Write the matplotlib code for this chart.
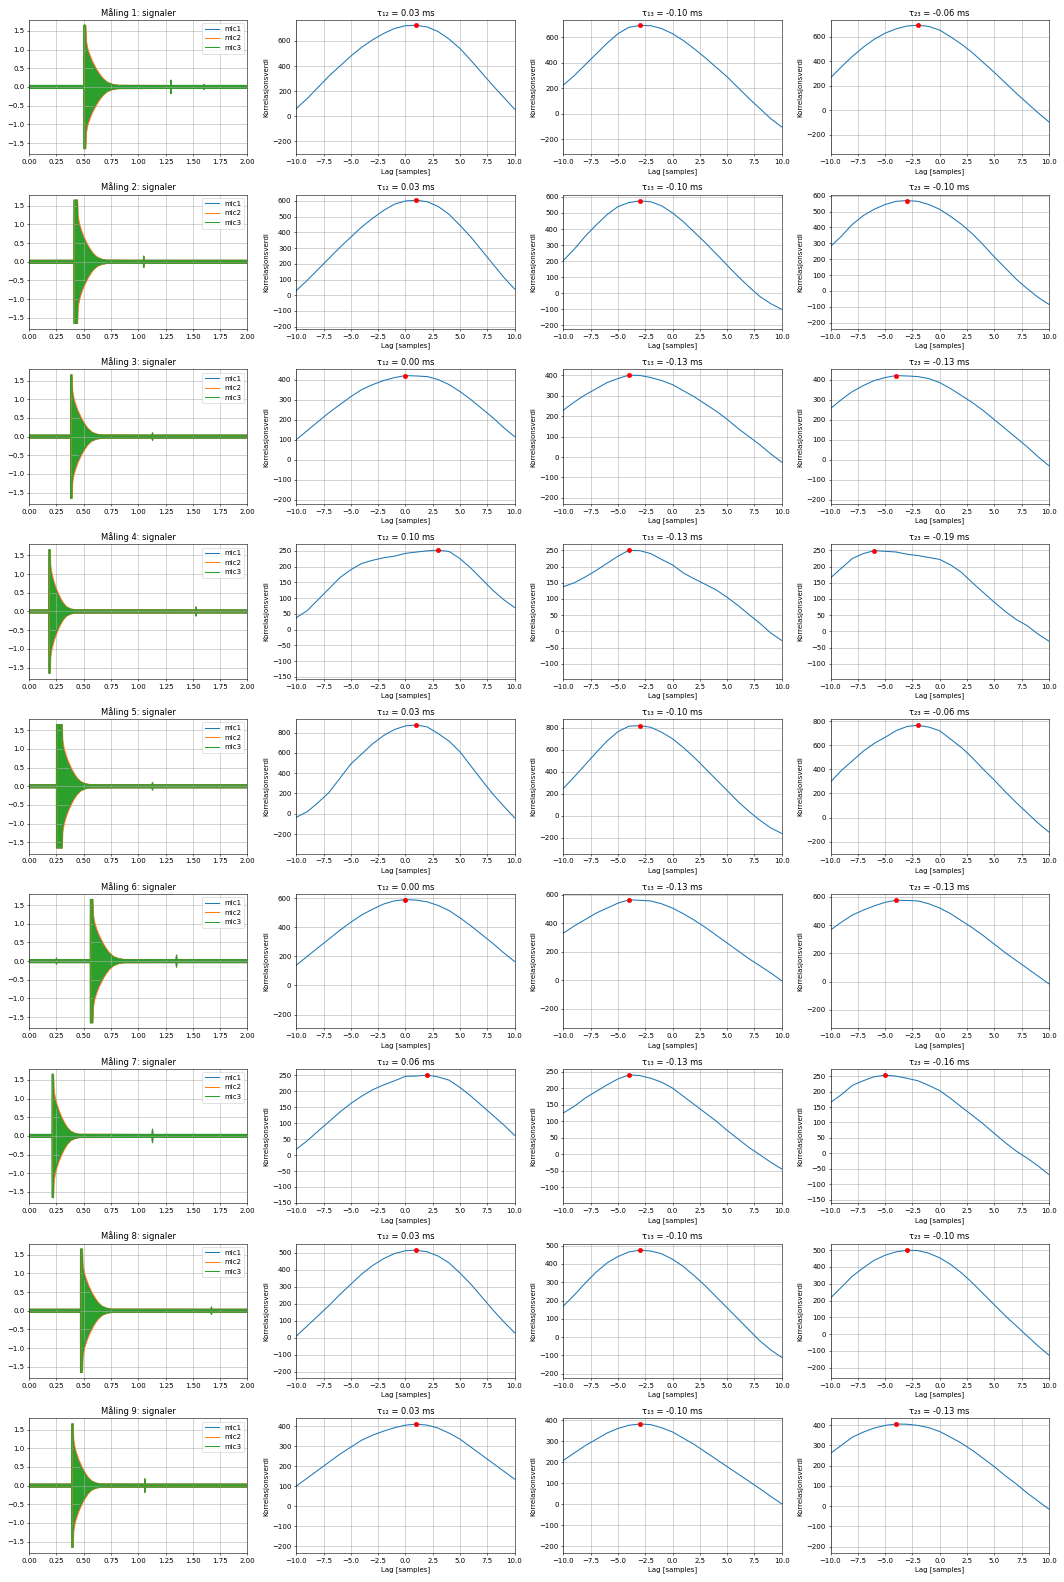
import numpy as np
import matplotlib
matplotlib.use("Agg")
import matplotlib.pyplot as plt

fs = 31250  # samples per second
lags = list(range(-10, 11))

# ---------------- signal panels (envelope) ----------------
onsets = [0.50, 0.41, 0.38, 0.18, 0.25, 0.56, 0.21, 0.47, 0.39]
clip_len = [0.015, 0.030, 0.010, 0.010, 0.050, 0.020, 0.010, 0.015, 0.010]
stretch = [1.00, 0.90, 0.90, 0.75, 0.85, 0.95, 0.80, 0.90, 0.85]
bumps = [
    [(1.30, 0.18), (1.60, 0.07)],
    [(1.05, 0.15)],
    [(1.13, 0.10)],
    [(1.53, 0.12)],
    [(1.13, 0.10)],
    [(0.25, 0.08), (1.35, 0.16)],
    [(1.13, 0.18)],
    [(1.67, 0.10)],
    [(1.06, 0.18)],
]
decay_off = [0.005, 0.020, 0.040, 0.060, 0.080, 0.100, 0.130, 0.160, 0.200, 0.250, 0.300]
decay_amp = [1.10, 0.90, 0.75, 0.62, 0.52, 0.42, 0.30, 0.20, 0.11, 0.06, 0.04]
noise_floor = 0.04
clip_level = 1.65

mics = ["mic1", "mic2", "mic3"]
mic_colors = ["tab:blue", "tab:orange", "tab:green"]
mic_shift = [0.002, 0.004, 0.0]
mic_scale = [1.05, 1.12, 1.0]

# ---------------- cross-correlation values at lags -10..10 ----------------
corr12 = [
    [60, 140, 230, 320, 400, 480, 550, 610, 660, 700, 722, 725, 712, 675, 615, 540, 445, 345, 245, 150, 55],
    [30, 95, 165, 235, 305, 370, 435, 490, 540, 580, 600, 605, 595, 565, 515, 445, 370, 285, 200, 115, 40],
    [100, 145, 190, 235, 275, 315, 350, 375, 395, 410, 420, 418, 415, 400, 375, 340, 300, 255, 210, 160, 115],
    [38, 60, 95, 130, 165, 190, 210, 220, 228, 233, 242, 246, 250, 252, 248, 225, 195, 160, 125, 95, 70],
    [-35, 20, 110, 210, 350, 490, 590, 690, 770, 830, 865, 875, 855, 790, 715, 610, 470, 330, 195, 75, -40],
    [140, 200, 260, 320, 380, 435, 485, 525, 560, 582, 590, 587, 575, 550, 515, 465, 410, 350, 290, 225, 165],
    [18, 45, 75, 105, 135, 162, 185, 205, 220, 233, 247, 248, 251, 245, 235, 212, 185, 155, 125, 95, 62],
    [10, 70, 130, 190, 255, 315, 375, 425, 465, 495, 512, 515, 505, 480, 440, 380, 315, 240, 165, 95, 30],
    [100, 140, 180, 220, 260, 295, 330, 355, 375, 392, 405, 410, 405, 390, 365, 335, 295, 255, 215, 175, 135],
]
corr13 = [
    [225, 300, 385, 470, 555, 630, 680, 695, 693, 670, 630, 575, 510, 440, 365, 290, 205, 120, 40, -40, -105],
    [205, 275, 355, 425, 490, 540, 565, 575, 570, 545, 500, 445, 380, 315, 245, 175, 105, 40, -20, -65, -100],
    [230, 270, 305, 335, 365, 385, 402, 400, 390, 375, 355, 325, 295, 260, 225, 185, 140, 100, 60, 15, -25],
    [138, 150, 168, 188, 210, 232, 250, 249, 240, 222, 205, 180, 162, 145, 128, 105, 80, 52, 25, -5, -28],
    [250, 355, 465, 575, 680, 765, 815, 820, 805, 760, 700, 620, 530, 430, 330, 230, 130, 40, -40, -110, -160],
    [330, 380, 425, 470, 505, 540, 563, 560, 555, 535, 505, 465, 420, 370, 315, 260, 205, 150, 100, 50, -5],
    [125, 145, 170, 190, 210, 228, 240, 238, 230, 218, 200, 175, 150, 125, 100, 72, 46, 20, -2, -25, -45],
    [170, 230, 295, 355, 405, 440, 465, 475, 470, 455, 425, 385, 335, 280, 220, 160, 100, 40, -20, -70, -110],
    [210, 245, 280, 310, 340, 362, 377, 383, 380, 365, 345, 315, 285, 250, 215, 180, 145, 110, 75, 38, 3],
]
corr23 = [
    [265, 355, 440, 515, 580, 630, 665, 688, 695, 685, 655, 600, 540, 470, 390, 310, 225, 140, 60, -20, -95],
    [280, 345, 420, 475, 515, 545, 565, 570, 565, 545, 515, 470, 420, 360, 290, 215, 145, 75, 15, -40, -85],
    [255, 300, 340, 370, 395, 410, 420, 418, 415, 405, 385, 355, 320, 285, 245, 200, 155, 110, 65, 15, -30],
    [165, 195, 225, 240, 249, 247, 245, 238, 234, 228, 222, 205, 182, 150, 120, 90, 62, 37, 18, -8, -30],
    [295, 390, 470, 550, 615, 665, 720, 755, 765, 750, 720, 650, 580, 495, 400, 310, 215, 125, 40, -45, -120],
    [365, 420, 470, 505, 535, 560, 575, 573, 570, 550, 520, 480, 430, 380, 325, 265, 205, 150, 95, 40, -15],
    [165, 190, 220, 235, 248, 253, 250, 243, 235, 220, 203, 178, 150, 123, 95, 65, 35, 8, -15, -40, -68],
    [215, 280, 345, 395, 440, 470, 490, 500, 498, 482, 455, 415, 365, 305, 240, 175, 110, 50, -10, -70, -125],
    [260, 300, 340, 365, 385, 398, 405, 404, 398, 387, 368, 340, 310, 275, 235, 195, 150, 110, 65, 25, -15],
]
ylim12 = [(-305, 770), (-215, 641), (-221, 451), (-156, 271), (-392, 933),
          (-295, 630), (-151, 271), (-236, 554), (-234, 439)]
ylim13 = [(-320, 740), (-223, 615), (-230, 430), (-146, 269), (-343, 880),
          (-339, 605), (-149, 259), (-223, 511), (-231, 410)]
ylim23 = [(-360, 740), (-241, 608), (-221, 451), (-146, 269), (-299, 817),
          (-330, 620), (-161, 274), (-262, 540), (-231, 433)]

pair_names = ["τ₁₂", "τ₁₃", "τ₂₃"]


def envelope(i, m):
    start = onsets[i] + mic_shift[m]
    pts = [(0.0, noise_floor), (2.0, noise_floor)]
    pts.append((start - 0.001, noise_floor))
    pts.append((start, clip_level))
    pts.append((start + clip_len[i], clip_level))
    for off, a in zip(decay_off, decay_amp):
        pts.append((start + clip_len[i] + stretch[i] * off, min(clip_level, a * mic_scale[m])))
    for bt, ba in bumps[i]:
        pts += [(bt - 0.004, noise_floor), (bt, ba), (bt + 0.004, noise_floor)]
    pts.sort()
    t = np.array([p[0] for p in pts])
    a = np.array([p[1] for p in pts])
    return np.r_[t, t[::-1]], np.r_[a, -a[::-1]]


fig, axes = plt.subplots(9, 4, figsize=(21.28, 31.64))

for i in range(9):
    ax = axes[i, 0]
    for m in range(3):
        x, y = envelope(i, m)
        ax.fill(x, y, color=mic_colors[m], lw=0)
        ax.plot(x, y, color=mic_colors[m], lw=1.5, label=mics[m])
    ax.set_xlim(0, 2)
    ax.set_ylim(-1.8, 1.8)
    ax.set_title(f"Måling {i + 1}: signaler")
    ax.legend(loc="upper right")
    ax.grid(True)

    for j, (corr, yl) in enumerate([(corr12, ylim12), (corr13, ylim13), (corr23, ylim23)]):
        ax = axes[i, j + 1]
        vals = corr[i]
        k = int(np.argmax(vals))
        tau_ms = lags[k] / fs * 1000
        ax.plot(lags, vals)
        ax.plot(lags[k], vals[k], "ro")
        ax.set_xlim(-10, 10)
        ax.set_ylim(*yl[i])
        ax.set_title(f"{pair_names[j]} = {tau_ms:.2f} ms")
        ax.set_xlabel("Lag [samples]")
        ax.set_ylabel("Korrelasjonsverdi")
        ax.grid(True)

plt.tight_layout()
plt.savefig("out.png", dpi=50)
